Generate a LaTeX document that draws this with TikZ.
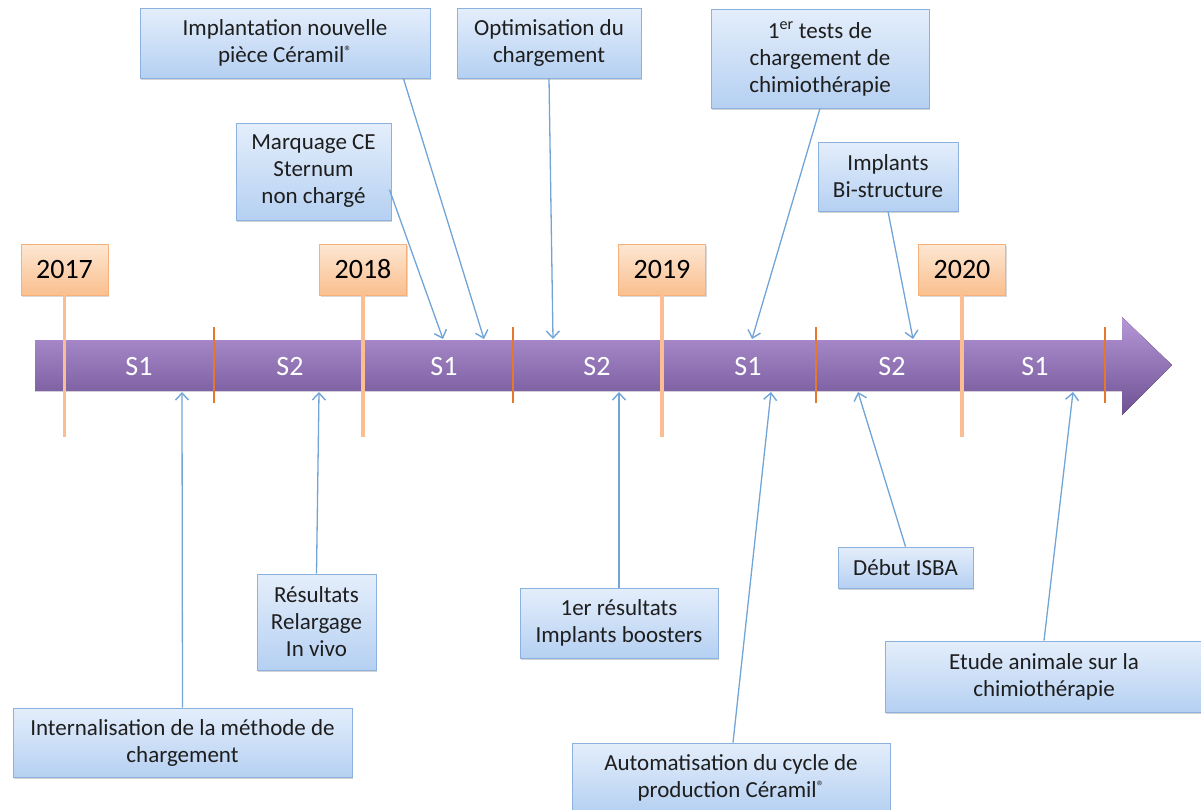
\documentclass[tikz,border=0pt]{standalone}
\usepackage{fontspec}
\setmainfont{Carlito}
\usetikzlibrary{shapes,arrows.meta,positioning,shadows}

\definecolor{evtop}{HTML}{E4EEFB}
\definecolor{evbot}{HTML}{B5D0F2}
\definecolor{evline}{HTML}{8CB1DE}
\definecolor{yrtop}{HTML}{FDE7D3}
\definecolor{yrbot}{HTML}{FABF8E}
\definecolor{yrline}{HTML}{F6B07A}
\definecolor{yrstick}{HTML}{FBBE92}
\definecolor{semtick}{HTML}{E5782C}
\definecolor{pointcol}{HTML}{72A5D7}
\definecolor{bartop}{HTML}{B597D8}
\definecolor{barmid}{HTML}{8B6BB0}
\definecolor{barbot}{HTML}{6E5192}
\definecolor{txt}{HTML}{1E1E1E}

\newcommand{\regmark}{\raisebox{0.55ex}{\fontsize{15}{15}\selectfont ®}}

\begin{document}
\begin{tikzpicture}[x=1pt, y=-1pt,
    event/.style={draw=evline, line width=0.8pt, top color=evtop, bottom color=evbot,
                  align=center, text=txt, inner sep=0pt,
                  font=\fontsize{23}{27}\selectfont,
                  drop shadow={opacity=0.35, shadow xshift=1pt, shadow yshift=-2pt}},
    year/.style={draw=yrline, line width=0.8pt, top color=yrtop, bottom color=yrbot,
                 minimum width=87pt, minimum height=51pt, inner sep=0pt,
                 font=\fontsize{28}{30}\selectfont,
                 drop shadow={opacity=0.3, shadow xshift=1pt, shadow yshift=-2pt}},
    sem/.style={text=white, font=\fontsize{28}{30}\selectfont},
    yearstick/.style={draw=yrstick, line width=3.5pt},
    semstick/.style={draw=semtick, line width=2.2pt},
    pointer/.style={-{Straight Barb[length=7pt, width=13pt, line width=1.4pt]}, draw=pointcol, line width=1.3pt}]
\useasboundingbox (0,0) rectangle (1201,809);

% time line
\fill[top color=bartop, middle color=barmid, bottom color=barbot]
  (35,340) -- (1122,340) -- (1122,317) -- (1172,365) -- (1122,415) -- (1122,391) -- (35,391) -- cycle;

% years
\node[year] (y17) at (64.5,269.5) {2017};
\node[year] (y18) at (363,269.5) {2018};
\node[year] (y19) at (662,269.5) {2019};
\node[year] (y20) at (962,269.5) {2020};
\draw[yearstick] (y17.south) -- ++(0,142);
\draw[yearstick] (y18.south) -- ++(0,142);
\draw[yearstick] (y19.south) -- ++(0,142);
\draw[yearstick] (y20.south) -- ++(0,142);

% semesters
\draw[semstick] (214,327) -- (214,403);
\draw[semstick] (513,327) -- (513,403);
\draw[semstick] (816,327) -- (816,403);
\draw[semstick] (1105,327) -- (1105,403);
\node[sem] (sa) at (139,367) {S1};
\node[sem] (sb) at (290,367) {S2};
\node[sem] (sc) at (444,367) {S1};
\node[sem] (sd) at (597,367) {S2};
\node[sem] (se) at (748,367) {S1};
\node[sem] (sf) at (892,367) {S2};
\node[sem] (sg) at (1035,367) {S1};

% points on the time line
\coordinate (tMarq) at (443,339);
\coordinate (tImpl) at (484,339);
\coordinate (tOpti) at (553,339);
\coordinate (tTest) at (752,339);
\coordinate (tBist) at (913,339);
\coordinate (tInte) at (182,392);
\coordinate (tRes) at (319,392);
\coordinate (tBoos) at (619,392);
\coordinate (tAuto) at (771,392);
\coordinate (tIsba) at (858,392);
\coordinate (tEtud) at (1073,392);

% events above
\node[event, minimum width=290pt, minimum height=70pt] (impl) at (285,43) {Implantation nouvelle\\pièce Céramil\regmark};
\node[event, minimum width=155pt, minimum height=97pt] (marq) at (313.5,171.5) {Marquage CE\\Sternum\\non chargé};
\node[event, minimum width=184pt, minimum height=70pt] (opti) at (549,43) {Optimisation du\\chargement};
\node[event, minimum width=218pt, minimum height=99pt] (test) at (820,58.5) {1\textsuperscript{er} tests de\\chargement de\\chimiothérapie};
\node[event, minimum width=140pt, minimum height=69pt] (bist) at (888,176.5) {Implants\\Bi-structure};

% events below
\node[event, minimum width=339pt, minimum height=69pt] (inte) at (182.5,742.5) {Internalisation de la méthode de\\chargement};
\node[event, minimum width=119pt, minimum height=96pt] (res) at (316.5,622) {Résultats\\Relargage\\In vivo};
\node[event, minimum width=198pt, minimum height=70pt] (boos) at (619,623) {1er résultats\\Implants boosters};
\node[event, minimum width=318pt, minimum height=70pt] (auto) at (731,778) {Automatisation du cycle de\\production Céramil\regmark};
\node[event, minimum width=135pt, minimum height=41pt] (isba) at (905.5,567.5) {Début ISBA};
\node[event, minimum width=318pt, minimum height=71pt] (etud) at (1044,676.5) {Etude animale sur la\\chimiothérapie};

% pointers
\draw[pointer] (impl.south east) ++(-27,0) -- (tImpl);
\draw[pointer] (marq.east) ++(-2,18) -- (tMarq);
\draw[pointer] (opti.south) -- (tOpti);
\draw[pointer] (test.south) -- (tTest);
\draw[pointer] (bist.south) -- (tBist);
\draw[pointer] (inte.north) -- (tInte);
\draw[pointer] (res.north) -- (tRes);
\draw[pointer] (boos.north) -- (tBoos);
\draw[pointer] (auto.north) ++(2,0) -- (tAuto);
\draw[pointer] (isba.north) -- (tIsba);
\draw[pointer] (etud.north) -- (tEtud);
\end{tikzpicture}
\end{document}
